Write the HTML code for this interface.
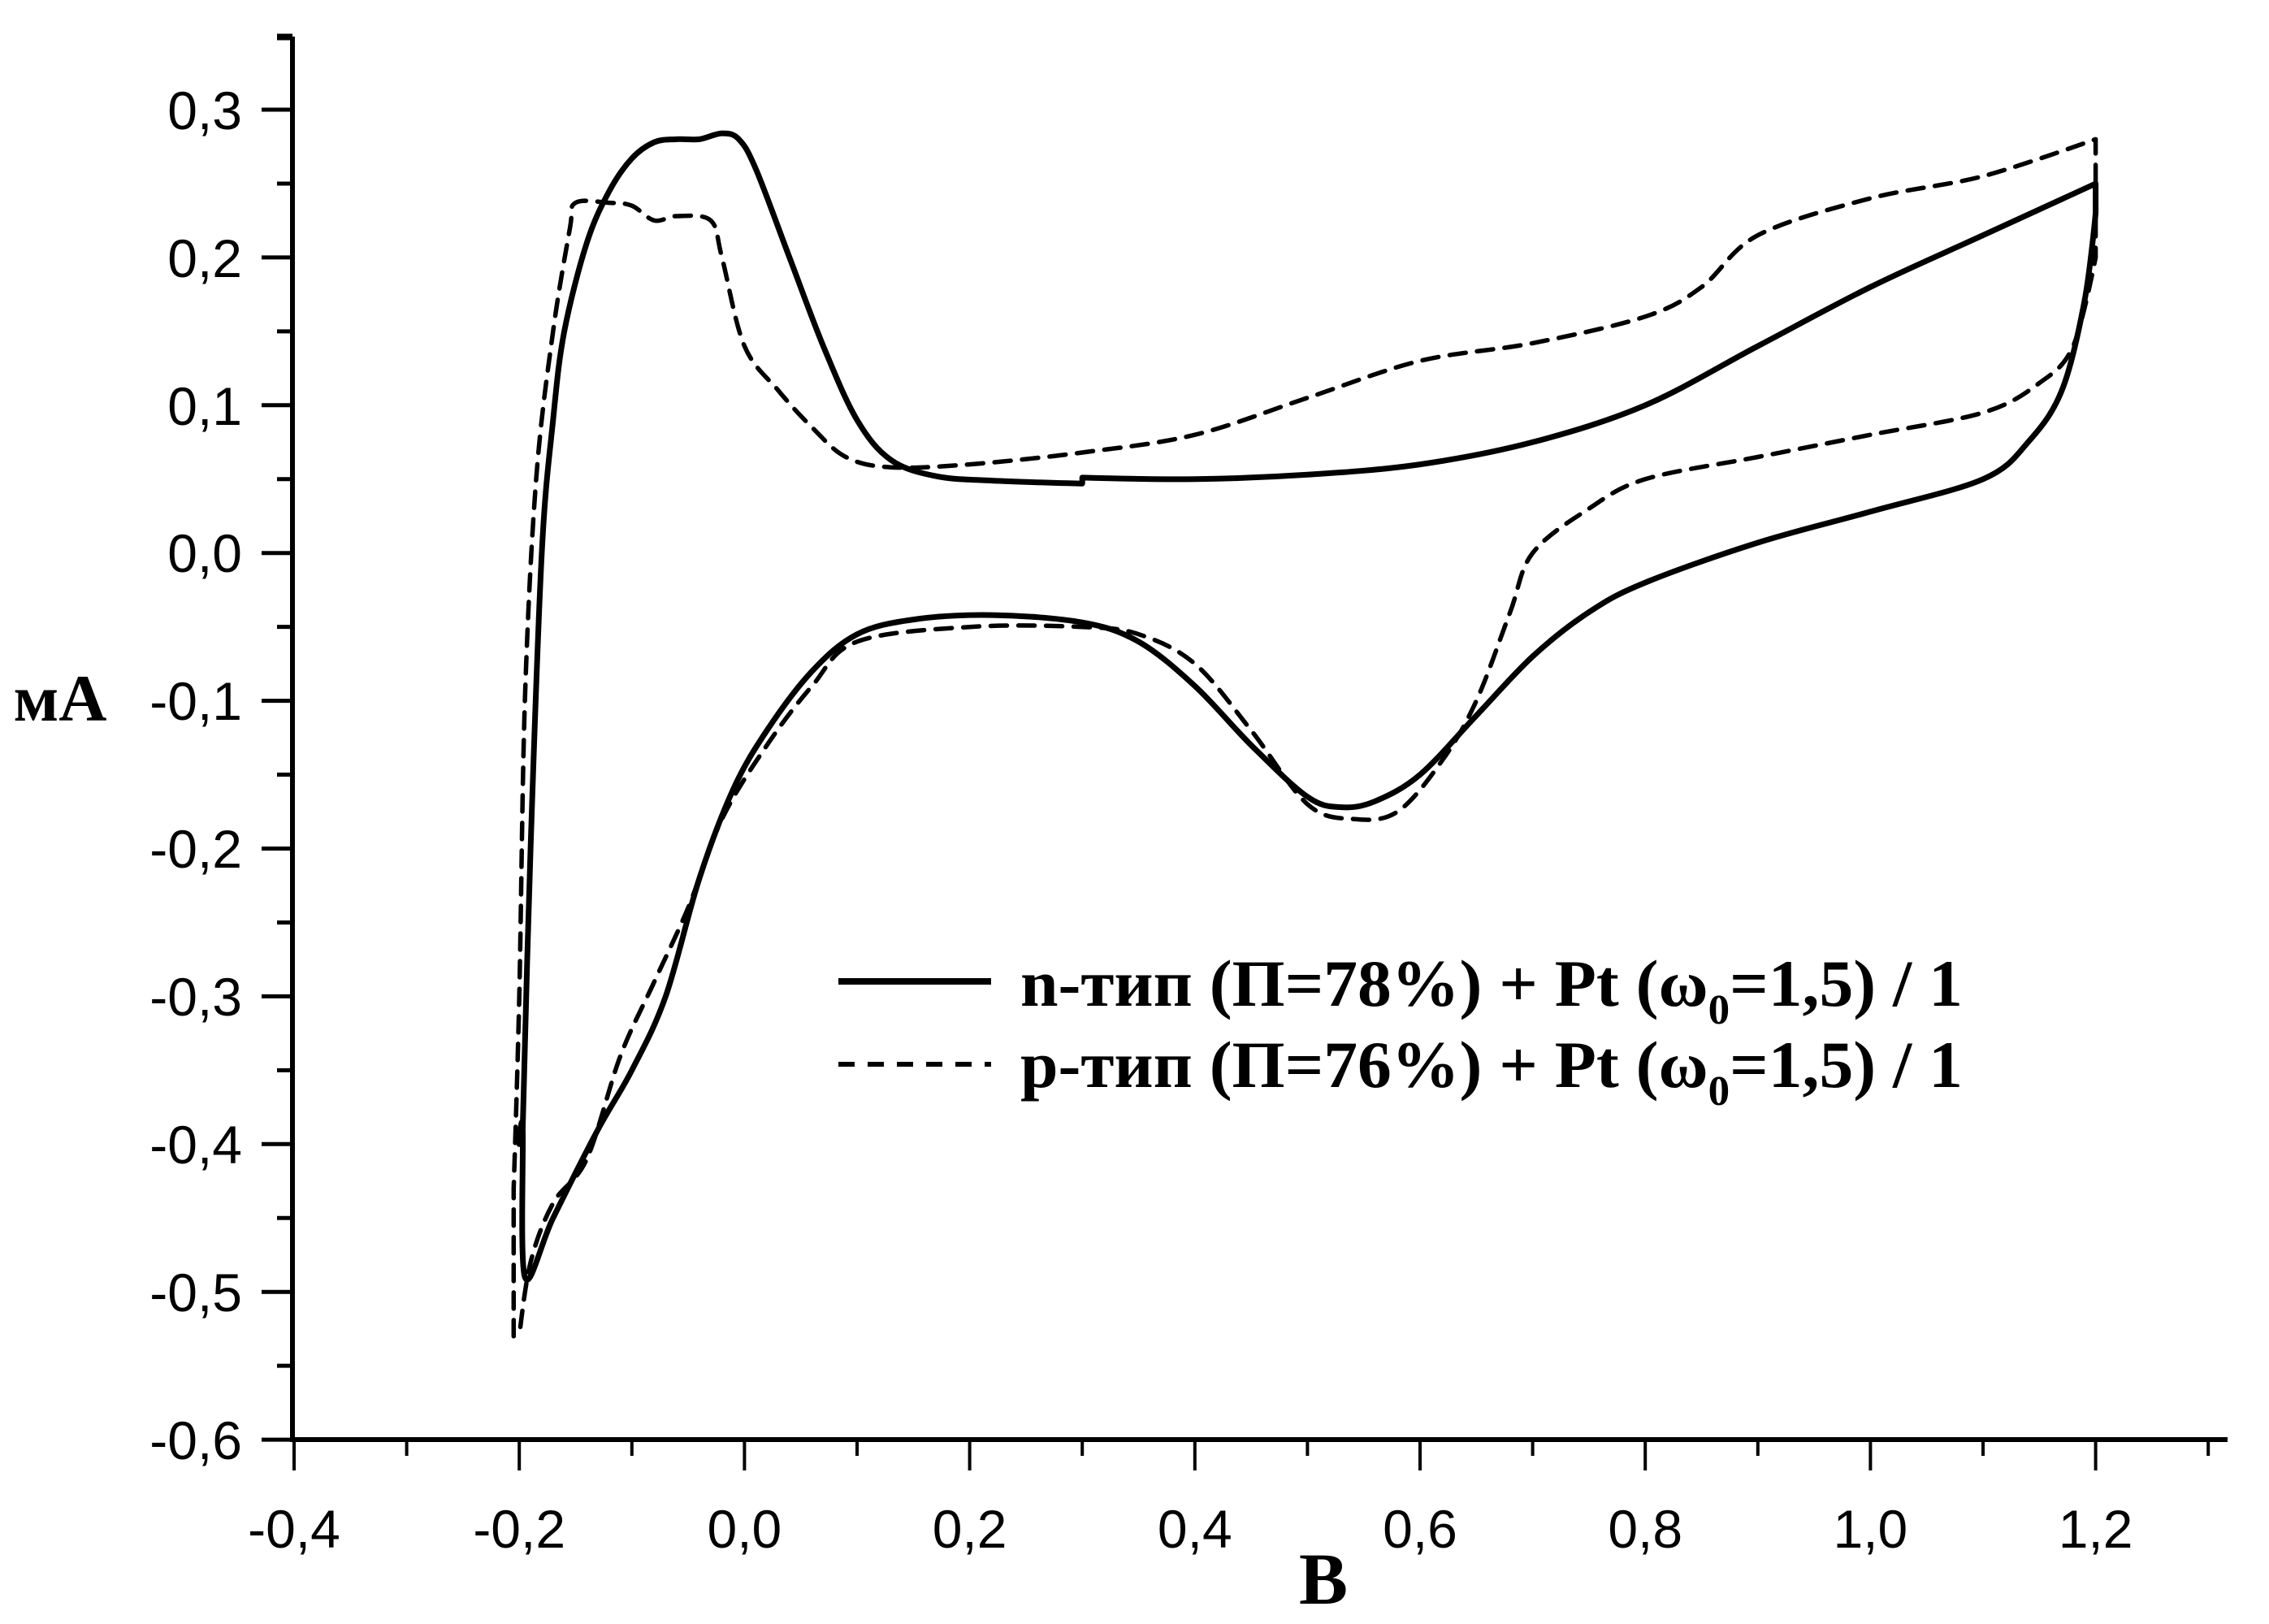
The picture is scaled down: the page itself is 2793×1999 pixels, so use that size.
<!DOCTYPE html>
<html><head><meta charset="utf-8"><style>html,body{margin:0;padding:0;background:#fff}svg{display:block}</style></head>
<body>
<svg id="s" xmlns="http://www.w3.org/2000/svg" width="2793" height="1999" viewBox="0 0 2793 1999">
<rect width="2793" height="1999" fill="#fff"/>
<g id="ax" stroke="#000" stroke-width="6" fill="none"></g>
<g font-family="Liberation Sans, Arial, sans-serif" font-size="66" fill="#000" text-anchor="end">
<text x="298" y="159">0,3</text>
<text x="298" y="341">0,2</text>
<text x="298" y="523">0,1</text>
<text x="298" y="704">0,0</text>
<text x="298" y="886">-0,1</text>
<text x="298" y="1068">-0,2</text>
<text x="298" y="1250">-0,3</text>
<text x="298" y="1432">-0,4</text>
<text x="298" y="1614">-0,5</text>
<text x="298" y="1796">-0,6</text>
</g>
<g id="xl" font-family="Liberation Sans, Arial, sans-serif" font-size="66" fill="#000" text-anchor="middle"></g>
<text x="1629" y="2004" font-family="Liberation Serif, serif" font-weight="bold" font-size="90" text-anchor="middle" dy="-30">B</text>
<text x="74" y="887" font-family="Liberation Serif, serif" font-weight="bold" font-size="82" text-anchor="middle">мА</text>
<g id="curves" fill="none" stroke="#000" stroke-linejoin="round" stroke-linecap="round"></g>
<line x1="1032" y1="1208" x2="1220" y2="1208" stroke="#000" stroke-width="8"/>
<line x1="1032" y1="1310" x2="1220" y2="1310" stroke="#000" stroke-width="6" stroke-dasharray="20,16"/>
<g font-family="Liberation Serif, serif" font-weight="bold" font-size="82" fill="#000">
<text x="1256" y="1238" textLength="1160" lengthAdjust="spacingAndGlyphs">n-тип (П=78%) + Pt (ω<tspan font-size="52" dy="22">0</tspan><tspan dy="-22">=1,5) / 1</tspan></text>
<text x="1256" y="1338" textLength="1160" lengthAdjust="spacingAndGlyphs">p-тип (П=76%) + Pt (ω<tspan font-size="52" dy="22">0</tspan><tspan dy="-22">=1,5) / 1</tspan></text>
</g>
</svg>
<script>
var X=function(v){return 362+(v+0.4)*1386;},Y=function(v){return 680.7-v*1819;};
var ax=document.getElementById('ax'),NS='http://www.w3.org/2000/svg';
function ln(a,b,c,d,w){var l=document.createElementNS(NS,'line');l.setAttribute('x1',a);l.setAttribute('y1',b);l.setAttribute('x2',c);l.setAttribute('y2',d);if(w)l.setAttribute('stroke-width',w);ax.appendChild(l);}
ln(360,45,360,1775);ln(357,1772,2742,1772);
for(var i=-12;i<=7;i++){var v=i*0.05,y=Y(v);if(y<40)continue;ln(i%2==0?322:341,y,360,y,5);}
ln(341,47,360,47,5);
for(var i=-4;i<=13;i++){var x=X(i*0.1);ln(x,1772,x,i%2==0?1810:1792,4);}
var xl=document.getElementById('xl');
['-0,4','-0,2','0,0','0,2','0,4','0,6','0,8','1,0','1,2'].forEach(function(t,k){var e=document.createElementNS(NS,'text');e.setAttribute('x',X(-0.4+k*0.2));e.setAttribute('y',1905);e.textContent=t;xl.appendChild(e);});
var sol=[[-0.197,-0.39],[-0.19,-0.2],[-0.18,0],[-0.17,0.09],[-0.16,0.15],[-0.14,0.21],[-0.12,0.245],[-0.1,0.267],[-0.08,0.278],[-0.06,0.28],[-0.04,0.28],[-0.02,0.284],[-0.005,0.28],[0.01,0.26],[0.04,0.2],[0.07,0.14],[0.1,0.09],[0.13,0.063],[0.17,0.052],[0.22,0.049],[0.3,0.047],[0.3,0.051],[0.4,0.05],[0.5,0.053],[0.6,0.06],[0.7,0.075],[0.8,0.1],[0.9,0.14],[1.0,0.18],[1.1,0.215],[1.2,0.25],[1.2,0.23],[1.19,0.17],[1.17,0.11],[1.14,0.075],[1.1,0.05],[1.0,0.028],[0.9,0.007],[0.8,-0.02],[0.75,-0.04],[0.7,-0.07],[0.65,-0.11],[0.6,-0.15],[0.56,-0.168],[0.53,-0.172],[0.5,-0.165],[0.45,-0.13],[0.4,-0.09],[0.35,-0.06],[0.3,-0.047],[0.22,-0.042],[0.15,-0.045],[0.1,-0.055],[0.06,-0.08],[0.02,-0.12],[-0.01,-0.16],[-0.04,-0.22],[-0.07,-0.3],[-0.1,-0.35],[-0.13,-0.39],[-0.17,-0.45],[-0.195,-0.49],[-0.197,-0.39],[-0.2,-0.4]];
var dsh=[[-0.205,-0.53],[-0.205,-0.43],[-0.2,-0.3],[-0.195,-0.1],[-0.185,0.05],[-0.17,0.15],[-0.155,0.22],[-0.15,0.237],[-0.12,0.237],[-0.1,0.235],[-0.08,0.225],[-0.06,0.228],[-0.03,0.225],[-0.02,0.2],[0.0,0.14],[0.03,0.11],[0.06,0.085],[0.09,0.065],[0.13,0.058],[0.2,0.06],[0.3,0.068],[0.4,0.08],[0.5,0.105],[0.6,0.13],[0.7,0.142],[0.8,0.16],[0.85,0.18],[0.9,0.215],[1.0,0.24],[1.1,0.255],[1.2,0.28],[1.2,0.2],[1.18,0.14],[1.15,0.115],[1.1,0.095],[1.0,0.08],[0.9,0.065],[0.8,0.05],[0.75,0.03],[0.7,0.0],[0.68,-0.04],[0.65,-0.1],[0.62,-0.14],[0.58,-0.175],[0.54,-0.18],[0.5,-0.17],[0.45,-0.12],[0.4,-0.075],[0.35,-0.055],[0.3,-0.05],[0.2,-0.05],[0.1,-0.06],[0.06,-0.09],[0.02,-0.13],[-0.02,-0.18],[-0.05,-0.24],[-0.08,-0.29],[-0.11,-0.34],[-0.14,-0.41],[-0.17,-0.44],[-0.19,-0.48],[-0.2,-0.53]];
var g=document.getElementById('curves');
function pth(a,w,da){var P=a.map(function(q){return [X(q[0]),Y(q[1])];});
function tan(i){if(i<=0||i>=P.length-1||a[i][0]>=1.2||(i>0&&a[i][0]==a[i-1][0]&&a[i][0]<0.5)||(i<a.length-1&&a[i][0]==a[i+1][0]&&a[i][0]<0.5))return [0,0];return [(P[i+1][0]-P[i-1][0])/6,(P[i+1][1]-P[i-1][1])/6];}
var d='M'+P[0][0].toFixed(1)+','+P[0][1].toFixed(1);
for(var i=0;i<P.length-1;i++){var p1=P[i],p2=P[i+1],t1=tan(i),t2=tan(i+1);
d+=' C'+(p1[0]+t1[0]).toFixed(1)+','+(p1[1]+t1[1]).toFixed(1)+' '+(p2[0]-t2[0]).toFixed(1)+','+(p2[1]-t2[1]).toFixed(1)+' '+p2[0].toFixed(1)+','+p2[1].toFixed(1);}
var p=document.createElementNS(NS,'path');p.setAttribute('d',d);p.setAttribute('stroke-width',w);if(da)p.setAttribute('stroke-dasharray',da);g.appendChild(p);}
pth(dsh,5.5,'20,14');pth(sol,7);
</script>
</body></html>
